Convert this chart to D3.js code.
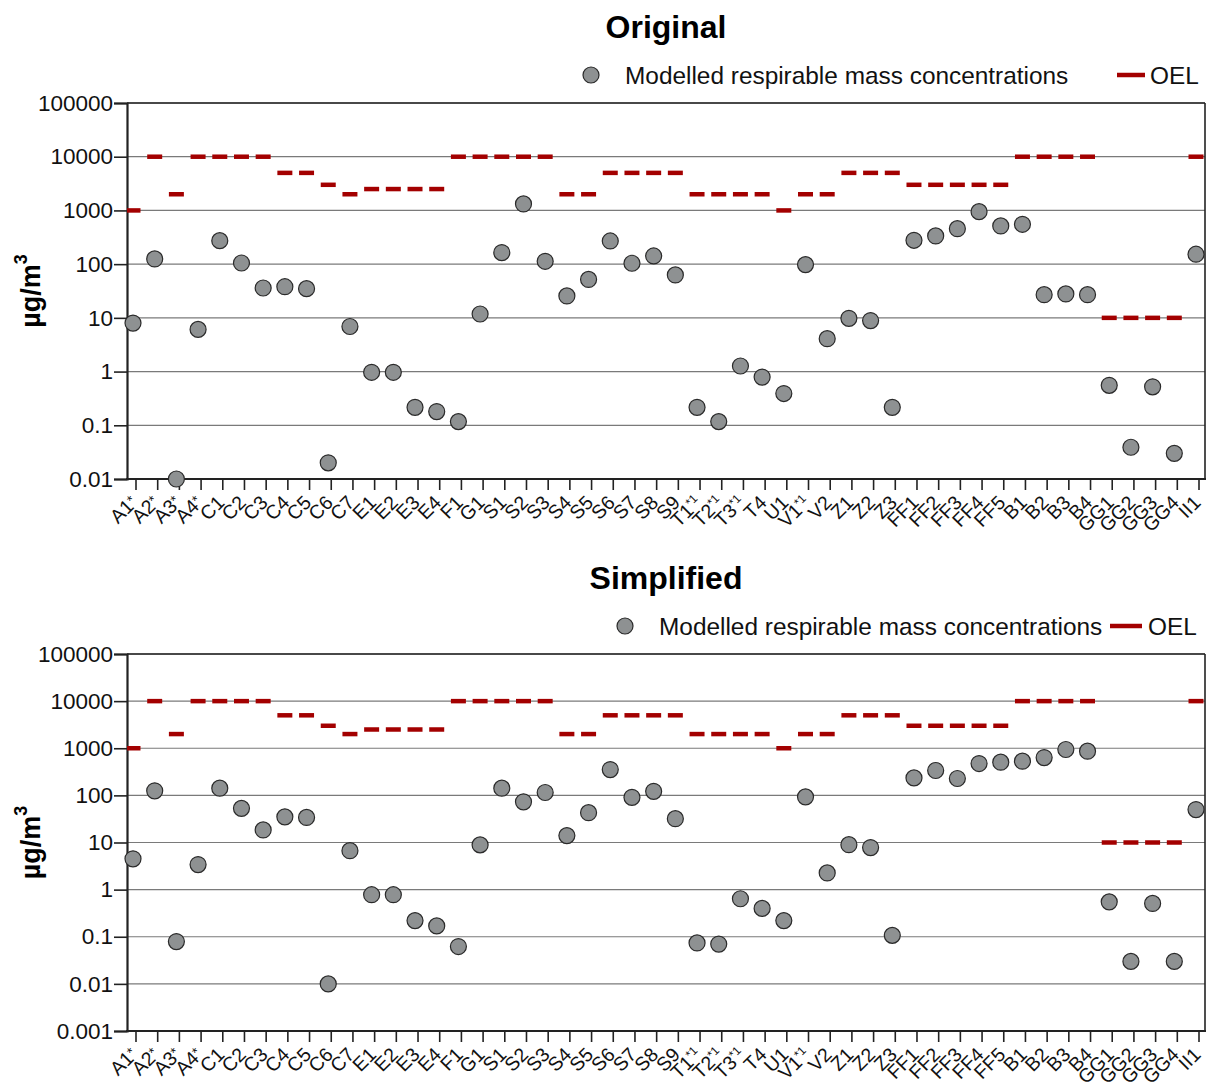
<!DOCTYPE html>
<html><head><meta charset="utf-8">
<script src="https://cdn.jsdelivr.net/npm/d3@7"></script>
<style>
body{margin:0;background:#fff}
svg{display:block;font-family:"Liberation Sans",Arial,Helvetica,sans-serif}
</style>
</head><body>
<svg id="chart" width="1210" height="1090"></svg>
<script>
// ---------- data ----------
const categories = ["A1*","A2*","A3*","A4*","C1","C2","C3","C4","C5","C6","C7","E1","E2","E3","E4","F1","G1",
  "S1","S2","S3","S4","S5","S6","S7","S8","S9","T1*1","T2*1","T3*1","T4","U1","V1*1","V2","Z1","Z2","Z3",
  "FF1","FF2","FF3","FF4","FF5","B1","B2","B3","B4","GG1","GG2","GG3","GG4","II1"];
const oelValues = [1000,10000,2000,10000,10000,10000,10000,5000,5000,3000,2000,2500,2500,2500,2500,10000,10000,
  10000,10000,10000,2000,2000,5000,5000,5000,5000,2000,2000,2000,2000,1000,2000,2000,5000,5000,5000,
  3000,3000,3000,3000,3000,10000,10000,10000,10000,10,10,10,10,10000];
const originalValues = [8,125,0.01,6.1,274,105,36,38,35,0.02,6.9,0.97,0.97,0.216,0.18,0.117,11.8,
  164,1320,113,25.6,52,270,104,142,63,0.216,0.117,1.27,0.79,0.39,98,4.1,9.8,8.9,0.216,
  278,335,458,950,514,552,27,27.9,27,0.555,0.039,0.52,0.03,153];
const simplifiedValues = [4.5,125,0.079,3.4,142,53,18.5,35,34,0.01,6.7,0.78,0.78,0.22,0.17,0.062,8.9,
  142,73,115,14,43,353,91,122,32,0.074,0.070,0.64,0.40,0.22,93,2.26,9.0,7.8,0.107,
  235,337,228,474,507,532,635,940,867,0.55,0.030,0.51,0.030,50];
const yTicksOriginal = [0.01,0.1,1,10,100,1000,10000,100000];
const yTickLabelsOriginal = ["0.01","0.1","1","10","100","1000","10000","100000"];
const yTicksSimplified = [0.001,0.01,0.1,1,10,100,1000,10000,100000];
const yTickLabelsSimplified = ["0.001","0.01","0.1","1","10","100","1000","10000","100000"];
const panelTitles = ["Original","Simplified"];
const seriesNames = ["Modelled respirable mass concentrations","OEL"];
const yAxisTitle = "µg/m";

// ---------- style / layout ----------
const dotFill = "#8e9192", dotStroke = "#2a2a2a", oelColor = "#a30000";
const plotLeft = 127, plotRight = 1205;
const svg = d3.select("#chart");
const x = d3.scalePoint().domain(categories).range([133, 1196]);

const panels = [
  {title: panelTitles[0], titleY: 38, values: originalValues, ticks: yTicksOriginal, tickLabels: yTickLabelsOriginal,
   yTop: 103, yBot: 479, legendY: 75, dotX: 591, textX: 625, oelX0: 1117, oelX1: 1145, oelTextX: 1150},
  {title: panelTitles[1], titleY: 589, values: simplifiedValues, ticks: yTicksSimplified, tickLabels: yTickLabelsSimplified,
   yTop: 654, yBot: 1031, legendY: 626, dotX: 625, textX: 659, oelX0: 1110, oelX1: 1142, oelTextX: 1148}
];

panels.forEach(p => {
  const g = svg.append("g");
  const y = d3.scaleLog().domain([p.ticks[0], p.ticks[p.ticks.length-1]]).range([p.yBot, p.yTop]);

  // title
  g.append("text").attr("x", 666).attr("y", p.titleY).attr("text-anchor", "middle")
    .attr("font-size", 32).attr("font-weight", "bold").attr("fill", "#000").text(p.title);

  // legend
  g.append("circle").attr("cx", p.dotX).attr("cy", p.legendY).attr("r", 8)
    .attr("fill", dotFill).attr("stroke", dotStroke).attr("stroke-width", 1.2);
  g.append("text").attr("x", p.textX).attr("y", p.legendY + 8.5).attr("font-size", 24.4).attr("fill", "#111").text(seriesNames[0]);
  g.append("line").attr("x1", p.oelX0).attr("x2", p.oelX1).attr("y1", p.legendY).attr("y2", p.legendY)
    .attr("stroke", oelColor).attr("stroke-width", 4.5);
  g.append("text").attr("x", p.oelTextX).attr("y", p.legendY + 8.5).attr("font-size", 24.4).attr("fill", "#111").text(seriesNames[1]);

  // gridlines
  g.append("g").selectAll("line").data(p.ticks).join("line")
    .attr("x1", plotLeft).attr("x2", plotRight)
    .attr("y1", d => y(d)).attr("y2", d => y(d))
    .attr("stroke", "#7a7a7a").attr("stroke-width", 1.2);

  // frame top + right
  g.append("line").attr("x1", plotLeft).attr("x2", plotRight).attr("y1", p.yTop).attr("y2", p.yTop)
    .attr("stroke", "#222").attr("stroke-width", 1.6);
  g.append("line").attr("x1", plotRight).attr("x2", plotRight).attr("y1", p.yTop).attr("y2", p.yBot)
    .attr("stroke", "#222").attr("stroke-width", 1.6);

  // y axis
  const yAxis = d3.axisLeft(y).tickValues(p.ticks).tickFormat((d, i) => p.tickLabels[i]).tickSize(13).tickPadding(1);
  const ya = g.append("g").attr("transform", `translate(${plotLeft},0)`).call(yAxis);
  ya.select(".domain").attr("stroke", "#222").attr("stroke-width", 2.2);
  ya.selectAll(".tick line").attr("stroke", "#222").attr("stroke-width", 1.6);
  ya.selectAll(".tick text").attr("font-size", 22.5).attr("font-family", "Liberation Sans, Arial, sans-serif").attr("fill", "#111");

  // x axis
  const xa = g.append("g").attr("transform", `translate(0,${p.yBot})`);
  xa.append("line").attr("x1", plotLeft - 1).attr("x2", plotRight + 1).attr("y1", 0).attr("y2", 0)
    .attr("stroke", "#222").attr("stroke-width", 2.2);
  xa.selectAll(".xt").data(categories).join("line").attr("class", "xt")
    .attr("x1", d => x(d) + 3).attr("x2", d => x(d) + 3).attr("y1", 0).attr("y2", 11)
    .attr("stroke", "#222").attr("stroke-width", 1.6);
  const lab = xa.selectAll(".xl").data(categories).join("text").attr("class", "xl")
    .attr("transform", d => `translate(${x(d) + 1},${20}) rotate(-45)`)
    .attr("text-anchor", "end").attr("font-size", 19.5).attr("dy", "0.35em").attr("fill", "#111");
  lab.each(function(d) {
    const m = d.match(/^([A-Z]+\d)(.*)$/);
    const t = d3.select(this);
    t.append("tspan").text(m[1]);
    if (m[2]) t.append("tspan").attr("font-size", m[2] === "*" ? 14 : 12)
      .attr("dy", m[2] === "*" ? "-0.25em" : "-0.55em").text(m[2]);
  });

  // y axis title
  const yt = g.append("text").attr("transform", `translate(40,${(p.yTop + p.yBot) / 2}) rotate(-90)`)
    .attr("text-anchor", "middle").attr("font-size", 27).attr("font-weight", "bold");
  yt.append("tspan").text(yAxisTitle);
  yt.append("tspan").attr("font-size", 18).attr("dy", "-0.7em").text("3");

  // OEL dashes
  g.append("g").selectAll("line").data(categories).join("line")
    .attr("x1", d => Math.max(plotLeft, x(d) - 7.5)).attr("x2", d => Math.min(plotRight, x(d) + 7.5))
    .attr("y1", (d, i) => y(oelValues[i])).attr("y2", (d, i) => y(oelValues[i]))
    .attr("stroke", oelColor).attr("stroke-width", 4.5);

  // dots
  g.append("g").selectAll("circle").data(categories).join("circle")
    .attr("cx", d => x(d)).attr("cy", (d, i) => y(p.values[i])).attr("r", 8)
    .attr("fill", dotFill).attr("stroke", dotStroke).attr("stroke-width", 1.2);
});
</script>
</body></html>
